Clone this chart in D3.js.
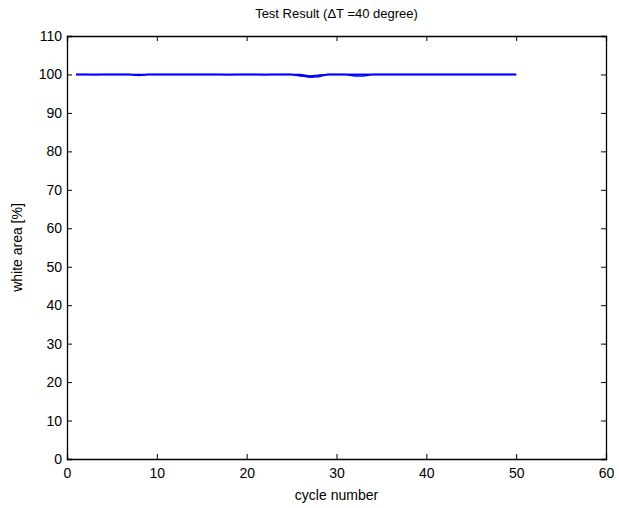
<!DOCTYPE html>
<html>
<head>
<meta charset="utf-8">
<script src="https://cdn.jsdelivr.net/npm/d3@7"></script>
<style>
  body { margin: 0; background: #fff; }
  text { font-family: "Liberation Sans", Arial, sans-serif; }
</style>
</head>
<body>
<svg width="619" height="508"></svg>
<script>
// cycles 1..50
var cycles = d3.range(1, 51);

// white area [%] of several samples, nearly all 100 with small dips
var sampleA = [100,100,99.9,100,100,100,100,99.7,100,100,
               100,100,100,100,100,100,100,99.9,100,100,
               100,99.9,100,100,100,99.6,99.5,99.7,100,100,
               100,100,100,100,100,100,100,100,100,100,
               100,100,100,100,100,100,100,100,100,100];
var sampleB = [100,100,100,100,100,100,100,99.8,100,100,
               100,100,100,100,100,100,100,100,100,100,
               100,100,100,100,100,99.7,99.3,99.4,100,100,
               100,99.6,99.6,100,100,100,100,100,100,100,
               100,100,100,100,100,100,100,100,100,100];
var sampleC = [100,100,100,100,100,100,100,100,100,100,
               100,100,100,100,100,100,100,100,100,100,
               100,100,100,100,100,100,99.6,99.8,100,100,
               100,100,100,100,100,100,100,100,100,100,
               100,100,100,100,100,100,100,100,100,100];
var series = [sampleA, sampleB, sampleC];

var xTicks = [0, 10, 20, 30, 40, 50, 60];
var yTicks = [0, 10, 20, 30, 40, 50, 60, 70, 80, 90, 100, 110];

var mLeft = 67, mRight = 606, mTop = 36, mBottom = 459;

var svg = d3.select("svg");

var x = d3.scaleLinear().domain([0, 60]).range([mLeft, mRight]);
var y = d3.scaleLinear().domain([0, 110]).range([mBottom, mTop]);

// data lines
var line = d3.line()
    .x(function(d, i) { return x(cycles[i]); })
    .y(function(d) { return y(d); });

svg.selectAll("path.series")
    .data(series)
    .enter()
    .append("path")
    .attr("class", "series")
    .attr("d", line)
    .attr("fill", "none")
    .attr("stroke", "#0000ff")
    .attr("stroke-width", 1.5);

// axes with inner ticks (MATLAB style)
var tick = 5;
svg.append("g")
    .attr("transform", "translate(0," + mBottom + ")")
    .call(d3.axisBottom(x).tickValues(xTicks).tickSize(-tick).tickPadding(9).tickFormat(d3.format("d")));
svg.append("g")
    .attr("transform", "translate(0," + mTop + ")")
    .call(d3.axisTop(x).tickValues(xTicks).tickSize(-tick).tickFormat(""));
svg.append("g")
    .attr("transform", "translate(" + mLeft + ",0)")
    .call(d3.axisLeft(y).tickValues(yTicks).tickSize(-tick).tickPadding(5).tickFormat(d3.format("d")));
svg.append("g")
    .attr("transform", "translate(" + mRight + ",0)")
    .call(d3.axisRight(y).tickValues(yTicks).tickSize(-tick).tickFormat(""));

svg.selectAll(".domain").attr("stroke", "#000").attr("stroke-width", 1.3);
svg.selectAll(".tick line").attr("stroke", "#000");
svg.selectAll(".tick text").attr("font-size", 14).attr("fill", "#000")
    .style("font-family", "'Liberation Sans', Arial, sans-serif");

// titles
svg.append("text")
    .attr("x", (mLeft + mRight) / 2)
    .attr("y", 18)
    .attr("text-anchor", "middle")
    .attr("font-size", 13)
    .text("Test Result (\u0394T =40 degree)");

svg.append("text")
    .attr("x", (mLeft + mRight) / 2)
    .attr("y", 500)
    .attr("text-anchor", "middle")
    .attr("font-size", 14)
    .text("cycle number");

svg.append("text")
    .attr("transform", "translate(22," + (mTop + mBottom) / 2 + ") rotate(-90)")
    .attr("text-anchor", "middle")
    .attr("font-size", 14)
    .text("white area [%]");
</script>
</body>
</html>
